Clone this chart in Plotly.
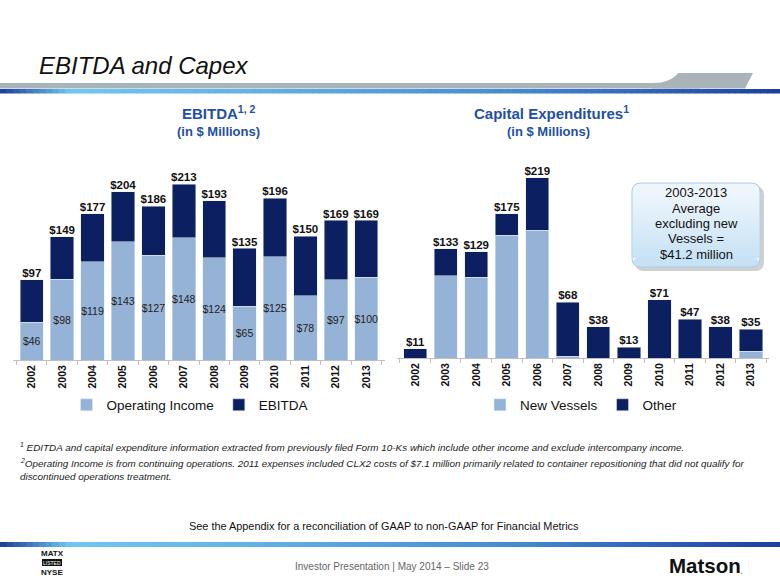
import plotly.graph_objects as go

# ---------------- data ----------------
years = ["2002", "2003", "2004", "2005", "2006", "2007", "2008", "2009", "2010", "2011", "2012", "2013"]
ebitda_total = [97, 149, 177, 204, 186, 213, 193, 135, 196, 150, 169, 169]
operating_income = [46, 98, 119, 143, 127, 148, 124, 65, 125, 78, 97, 100]
capex_total = [11, 133, 129, 175, 219, 68, 38, 13, 71, 47, 38, 35]
capex_new_vessels = [0, 100, 98, 149, 155, 2, 0, 0, 0, 0, 0, 8]

ebitda_rest = [t - o for t, o in zip(ebitda_total, operating_income)]
capex_other = [t - n for t, n in zip(capex_total, capex_new_vessels)]

LIGHT = "#95b3d7"
NAVY = "#0c2061"
TBLUE = "#1f4fa6"
FONT = "Arial, Liberation Sans, sans-serif"

W, H = 780, 585
def px(x):
    return x / W
def py(y):
    return 1 - y / H

fig = go.Figure()

# ---------------- left chart: EBITDA ----------------
fig.add_trace(go.Bar(
    x=years, y=operating_income, name="Operating Income", marker_color=LIGHT,
    text=["$%d" % v for v in operating_income], textposition="inside",
    insidetextanchor="middle", textangle=0, constraintext="none",
    textfont=dict(family=FONT, size=10.5, color="#222222"),
    xaxis="x", yaxis="y", legend="legend", hoverinfo="skip"))
fig.add_trace(go.Bar(
    x=years, y=ebitda_rest, name="EBITDA", marker_color=NAVY,
    xaxis="x", yaxis="y", legend="legend", hoverinfo="skip"))
fig.add_trace(go.Scatter(
    x=years, y=ebitda_total, mode="text", text=["$%d" % v for v in ebitda_total],
    textposition="top center", textfont=dict(family=FONT, size=11.5, color="#111111", weight="bold"),
    xaxis="x", yaxis="y", showlegend=False, hoverinfo="skip"))

# ---------------- right chart: Capex ----------------
fig.add_trace(go.Bar(
    x=years, y=capex_new_vessels, name="New Vessels", marker_color=LIGHT,
    xaxis="x2", yaxis="y2", legend="legend2", hoverinfo="skip"))
fig.add_trace(go.Bar(
    x=years, y=capex_other, name="Other", marker_color=NAVY,
    xaxis="x2", yaxis="y2", legend="legend2", hoverinfo="skip"))
fig.add_trace(go.Scatter(
    x=years, y=capex_total, mode="text", text=["$%d" % v for v in capex_total],
    textposition="top center", textfont=dict(family=FONT, size=11.5, color="#111111", weight="bold"),
    xaxis="x2", yaxis="y2", showlegend=False, hoverinfo="skip"))

xcommon = dict(type="category", showgrid=False, zeroline=False, showline=True,
               linecolor="#bfbfbf", linewidth=1, ticks="outside", tickson="boundaries",
               ticklen=4, tickcolor="#bfbfbf", tickangle=-90,
               tickfont=dict(family=FONT, size=10.5, color="#111111", weight="bold"),
               fixedrange=True)
ycommon = dict(visible=False, showgrid=False, zeroline=False, fixedrange=True)

legcommon = dict(orientation="h", xanchor="center", yanchor="middle",
                 font=dict(family=FONT, size=13.5, color="#111111"),
                 bgcolor="rgba(0,0,0,0)", itemwidth=30, traceorder="normal")

fig.update_layout(
    width=W, height=H, margin=dict(l=0, r=0, t=0, b=0),
    paper_bgcolor="white", plot_bgcolor="rgba(0,0,0,0)",
    barmode="stack", bargap=0.23,
    xaxis=dict(domain=[px(13.2), px(384.8)], anchor="y", **xcommon),
    yaxis=dict(domain=[py(360), py(150)], range=[0, 210 / 0.826], anchor="x", **ycommon),
    xaxis2=dict(domain=[px(396.6), px(769.4)], anchor="y2", **xcommon),
    yaxis2=dict(domain=[py(358), py(150)], range=[0, 208 / 0.823], anchor="x2", **ycommon),
    legend=dict(x=px(190), y=py(405), **legcommon),
    legend2=dict(x=px(581), y=py(405), **legcommon),
    showlegend=True,
)

shapes = []
annotations = []

def gradient_band(y0, y1, stops, n=120):
    for i in range(n):
        x0 = W * i / n
        x1 = W * (i + 1) / n + 0.6
        t = (i + 0.5) / n
        for j in range(len(stops) - 1):
            if stops[j][0] <= t <= stops[j + 1][0]:
                a, ca = stops[j]
                b, cb = stops[j + 1]
                f = (t - a) / (b - a) if b > a else 0
                break
        c = tuple(int(round(ca[k] + (cb[k] - ca[k]) * f)) for k in range(3))
        shapes.append(dict(type="rect", xref="paper", yref="paper",
                           x0=px(x0), x1=px(min(x1, W)), y0=py(y1), y1=py(y0),
                           fillcolor="rgb(%d,%d,%d)" % c, line=dict(width=0), layer="above"))

stops = [(0.0, (30, 60, 150)), (0.09, (110, 200, 240)), (0.3, (100, 180, 230)),
         (0.65, (70, 140, 210)), (1.0, (28, 62, 160))]

# grey band with tab under title
shapes.append(dict(type="rect", xref="paper", yref="paper", x0=0, x1=px(700),
                   y0=py(88.5), y1=py(83), fillcolor="#a9b4ba", line=dict(width=0)))
path = "M %f,%f Q %f,%f %f,%f L %f,%f L %f,%f L %f,%f Z" % (
    px(652), py(83), px(671), py(83), px(678), py(73),
    px(753), py(73), px(745), py(88.5), px(652), py(88.5))
shapes.append(dict(type="path", xref="paper", yref="paper", path=path,
                   fillcolor="#a9b4ba", line=dict(width=0)))
gradient_band(89, 93.5, stops)
gradient_band(542, 547, stops)

# callout box (shadow + rounded rectangle with vertical gradient)
def rounded(x0, y0, x1, y1, r):
    return ("M %f,%f L %f,%f Q %f,%f %f,%f L %f,%f Q %f,%f %f,%f L %f,%f Q %f,%f %f,%f "
            "L %f,%f Q %f,%f %f,%f Z") % (
        px(x0 + r), py(y0), px(x1 - r), py(y0), px(x1), py(y0), px(x1), py(y0 + r),
        px(x1), py(y1 - r), px(x1), py(y1), px(x1 - r), py(y1),
        px(x0 + r), py(y1), px(x0), py(y1), px(x0), py(y1 - r),
        px(x0), py(y0 + r), px(x0), py(y0), px(x0 + r), py(y0))

BX0, BY0, BX1, BY1, R = 632, 183, 760, 267, 9
shapes.append(dict(type="path", xref="paper", yref="paper", path=rounded(BX0 + 3, BY0 + 3, BX1 + 4, BY1 + 4, R),
                   fillcolor="rgba(120,120,120,0.35)", line=dict(width=0)))
shapes.append(dict(type="path", xref="paper", yref="paper", path=rounded(BX0, BY0, BX1, BY1, R),
                   fillcolor="#eef6fc", line=dict(width=0)))
nstrip = 20
top_c, bot_c = (238, 246, 252), (200, 226, 245)
for i in range(nstrip):
    y0 = BY0 + R + (BY1 - BY0 - 2 * R) * i / nstrip
    y1 = BY0 + R + (BY1 - BY0 - 2 * R) * (i + 1) / nstrip + 0.5
    f = (i + 0.5) / nstrip
    c = tuple(int(round(top_c[k] + (bot_c[k] - top_c[k]) * f)) for k in range(3))
    shapes.append(dict(type="rect", xref="paper", yref="paper", x0=px(BX0 + 0.5), x1=px(BX1 - 0.5),
                       y0=py(min(y1, BY1 - R)), y1=py(y0), fillcolor="rgb(%d,%d,%d)" % c, line=dict(width=0)))
shapes.append(dict(type="path", xref="paper", yref="paper", path=rounded(BX0 + 0.5, BY1 - R - 0.5, BX1 - 0.5, BY1, min(R, 8)),
                   fillcolor="rgb(%d,%d,%d)" % bot_c, line=dict(width=0)))
shapes.append(dict(type="path", xref="paper", yref="paper", path=rounded(BX0, BY0, BX1, BY1, R),
                   fillcolor="rgba(0,0,0,0)", line=dict(color="#a6cdea", width=1)))

box_lines = ["2003-2013", "Average", "excluding new", "Vessels =", "$41.2 million"]
box_y = [193, 208.3, 223.6, 238.9, 254.2]
for t, yy in zip(box_lines, box_y):
    annotations.append(dict(text=t, x=px(696), y=py(yy), xref="paper", yref="paper",
                            showarrow=False, xanchor="center", yanchor="middle",
                            font=dict(family=FONT, size=13, color="#111111")))

# slide title
annotations.append(dict(text="<i>EBITDA and Capex</i>", x=px(37), y=py(65), xref="paper", yref="paper",
                        showarrow=False, xanchor="left", yanchor="middle",
                        font=dict(family=FONT, size=24, color="#111111")))

# chart titles
annotations.append(dict(text="<b>EBITDA<sup>1, 2</sup></b>", x=px(219), y=py(113), xref="paper", yref="paper",
                        showarrow=False, xanchor="center", yanchor="middle",
                        font=dict(family=FONT, size=15, color=TBLUE)))
annotations.append(dict(text="<b>(in $ Millions)</b>", x=px(218), y=py(132), xref="paper", yref="paper",
                        showarrow=False, xanchor="center", yanchor="middle",
                        font=dict(family=FONT, size=13, color=TBLUE)))
annotations.append(dict(text="<b>Capital Expenditures<sup>1</sup></b>", x=px(551), y=py(113), xref="paper", yref="paper",
                        showarrow=False, xanchor="center", yanchor="middle",
                        font=dict(family=FONT, size=15, color=TBLUE)))
annotations.append(dict(text="<b>(in $ Millions)</b>", x=px(548), y=py(132), xref="paper", yref="paper",
                        showarrow=False, xanchor="center", yanchor="middle",
                        font=dict(family=FONT, size=13, color=TBLUE)))

# footnotes
foot = [
    ("<i><sup>1</sup> EDITDA and capital expenditure information extracted from previously filed Form 10-Ks which include other income and exclude intercompany income.</i>", 447),
    ("<i><sup>2</sup>Operating Income is from continuing operations. 2011 expenses included CLX2 costs of $7.1 million primarily related to container repositioning that did not qualify for</i>", 463),
    ("<i>discontinued operations treatment.</i>", 476),
]
for t, yy in foot:
    annotations.append(dict(text=t, x=px(18), y=py(yy), xref="paper", yref="paper",
                            showarrow=False, xanchor="left", yanchor="middle",
                            font=dict(family=FONT, size=9.9, color="#222222")))

annotations.append(dict(text="See the Appendix for a reconciliation of GAAP to non-GAAP for Financial Metrics",
                        x=px(384), y=py(526), xref="paper", yref="paper", showarrow=False,
                        xanchor="center", yanchor="middle",
                        font=dict(family=FONT, size=10.9, color="#111111")))

# footer
annotations.append(dict(text="Investor Presentation | May 2014 \u2013 Slide 23", x=px(392), y=py(566),
                        xref="paper", yref="paper", showarrow=False, xanchor="center", yanchor="middle",
                        font=dict(family=FONT, size=10, color="#666666")))
annotations.append(dict(text="<b>Matson</b>", x=px(667), y=py(565), xref="paper", yref="paper",
                        showarrow=False, xanchor="left", yanchor="middle",
                        font=dict(family=FONT, size=20.5, color="#111111")))
annotations.append(dict(text=".", x=px(738), y=py(570), xref="paper", yref="paper",
                        showarrow=False, xanchor="left", yanchor="middle",
                        font=dict(family=FONT, size=11, color="#777777")))
# exchange logo
annotations.append(dict(text="<b>MATX</b>", x=px(52), y=py(553), xref="paper", yref="paper",
                        showarrow=False, xanchor="center", yanchor="middle",
                        font=dict(family=FONT, size=8, color="#111111")))
shapes.append(dict(type="rect", xref="paper", yref="paper", x0=px(42), x1=px(62),
                   y0=py(566), y1=py(559), fillcolor="#111111", line=dict(width=0)))
annotations.append(dict(text="LISTED", x=px(52), y=py(562.5), xref="paper", yref="paper",
                        showarrow=False, xanchor="center", yanchor="middle",
                        font=dict(family=FONT, size=5, color="#ffffff")))
annotations.append(dict(text="<b>NYSE</b>", x=px(52), y=py(572), xref="paper", yref="paper",
                        showarrow=False, xanchor="center", yanchor="middle",
                        font=dict(family=FONT, size=8, color="#111111")))

fig.update_layout(shapes=shapes, annotations=annotations)

fig.write_html("out.html", config={"displayModeBar": False},
               post_script="document.body.style.margin='0';")
